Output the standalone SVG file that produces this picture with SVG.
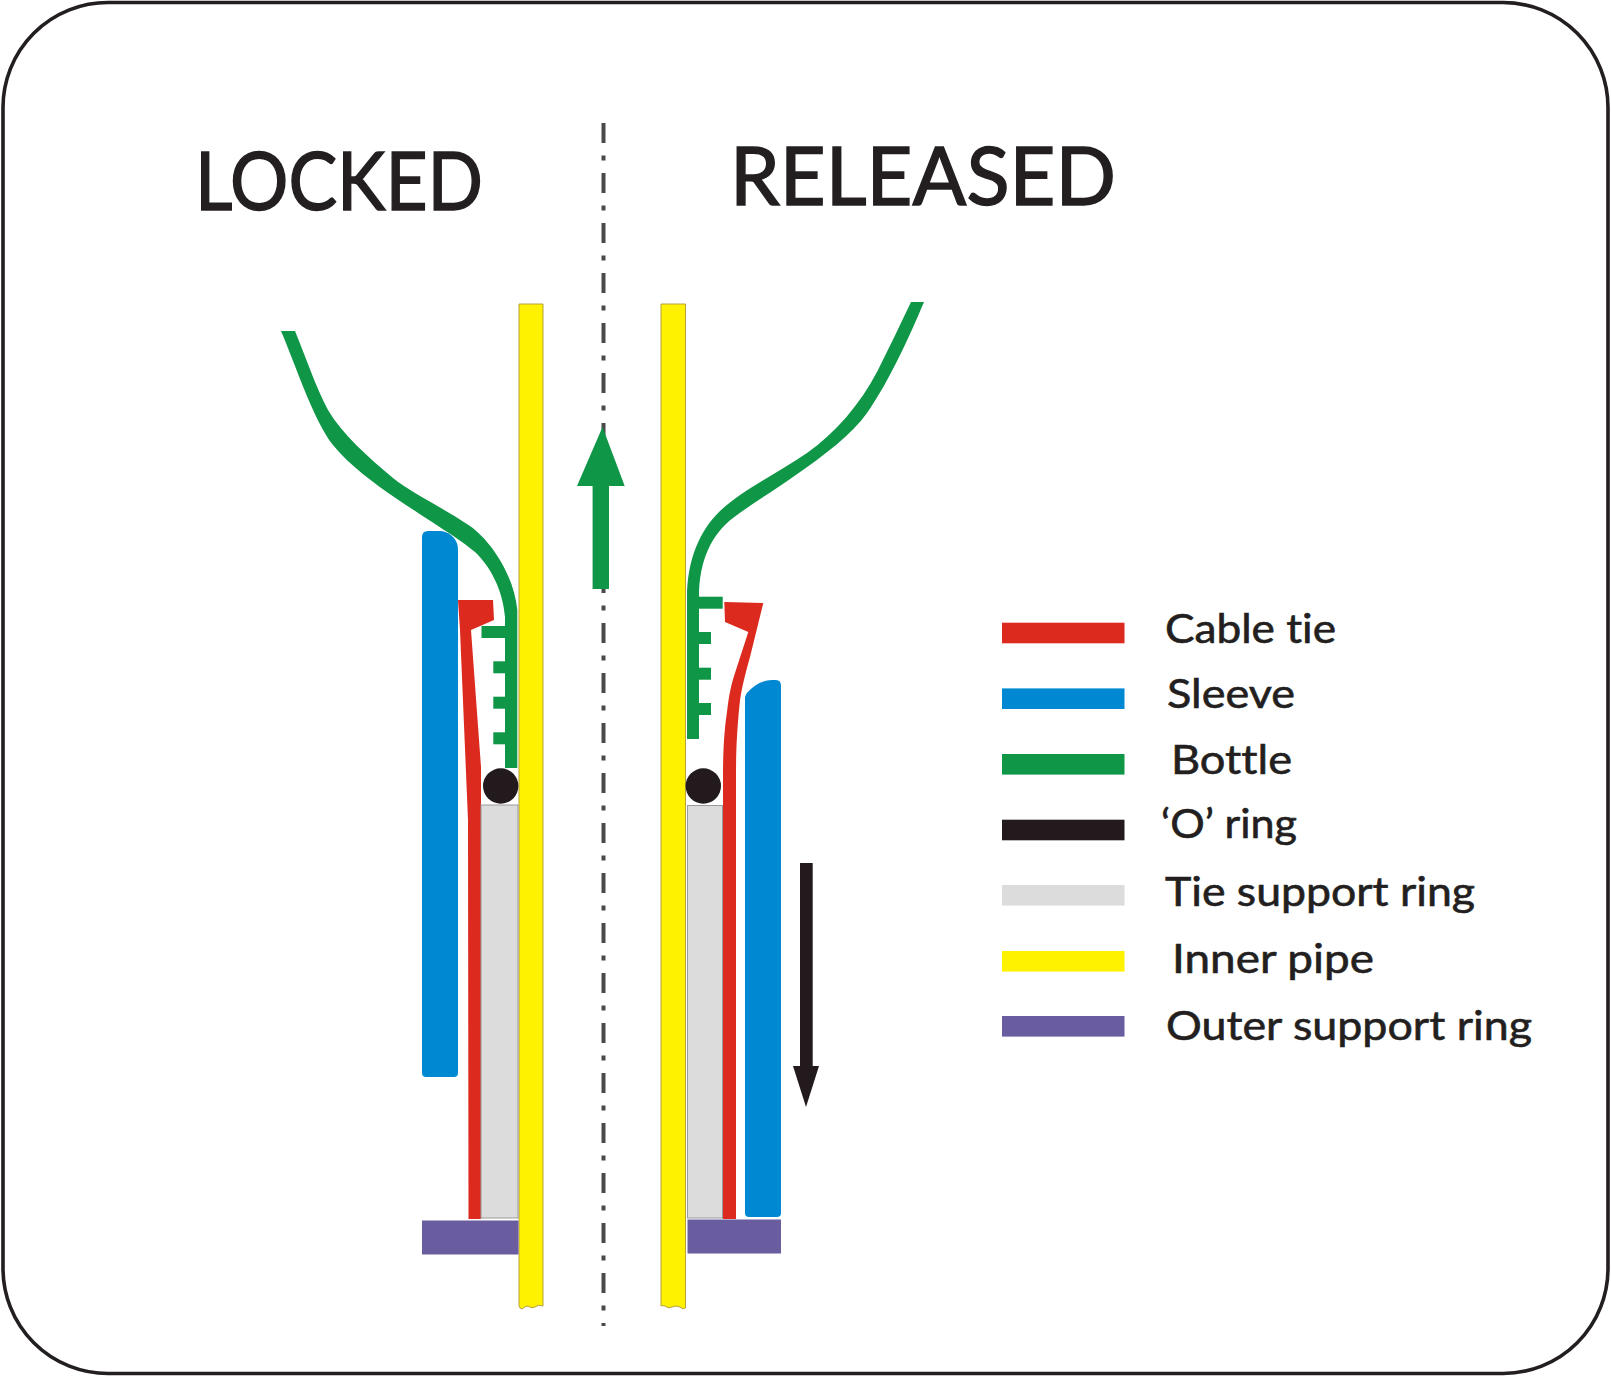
<svg xmlns="http://www.w3.org/2000/svg" width="1611" height="1377" viewBox="0 0 1611 1377">
<style>
.red{fill:#dc2a1e}.blue{fill:#0089d2}.green{fill:#0f9647}.black{fill:#221a1c}
.grey{fill:#dcdcdc}.greyl{fill:#dcdcdc;stroke:#9a9a9a;stroke-width:1}
.yellow{fill:#fff200}.yellowl{fill:#fff200;stroke:#b5a03c;stroke-width:1}.purple{fill:#695d9f}
text{font-family:"Lato","Open Sans","Liberation Sans",sans-serif;fill:#231f20;font-variant-ligatures:none}
.leg{font-size:40px;stroke:#231f20;stroke-width:.6}
.title{font-size:82px;stroke:#231f20;stroke-width:1.5}
</style>
<rect width="1611" height="1377" fill="#fff"/>
<rect id="frame" x="3" y="2.500" width="1605" height="1371" rx="105" ry="105" fill="#fff" stroke="#231f20" stroke-width="3.600"/>
<g id="titles">
<text class="title" x="195" y="210" textLength="288" lengthAdjust="spacingAndGlyphs">LOCKED</text>
<text class="title" x="730" y="205" textLength="386" lengthAdjust="spacingAndGlyphs">RELEASED</text>
</g>
<line id="centre-line" x1="603.5" y1="123" x2="603.5" y2="1326" stroke="#4a4a4a" stroke-width="4" stroke-dasharray="20 12.5 5 12.5"/>
<g id="locked">
<path class="yellowl" d="M519,304H543V1306Q538,1304 535,1307Q531,1309 528,1306Q525,1306 522,1309Q520,1309 519,1306Z"/>
<path class="blue" d="M422,537Q422,531 428,531H441Q449,532 454,538Q458,543 458,550V1073Q458,1077 454,1077H426Q422,1077 422,1073Z"/>
<path class="red" d="M458,600H493L494,620L471,630L481,767V1219H468.500L468,820L460,630Z"/>
<rect class="greyl" x="481" y="805" width="37" height="413"/>
<rect class="purple" x="422" y="1220.500" width="96.500" height="34"/>
<circle class="black" cx="500.700" cy="786" r="17.700"/>
<path class="green" d="M281,331H295C305,355 316,388 328,410C342,434 368,457 393,478C410,492 440,506 470,526C491,541 514,575 517.300,610V768H505V617C503,590 490,566 475,552C460,539 425,518 397,499C375,484 350,466 333,445C313,420 293,358 281,331Z"/>
<rect class="green" x="481.500" y="626" width="24" height="12"/>
<rect class="green" x="493.300" y="661.300" width="12" height="12"/>
<rect class="green" x="493.300" y="696.700" width="12" height="12"/>
<rect class="green" x="493.300" y="732.300" width="12" height="12"/>
</g>
<g id="released">
<path class="yellowl" d="M661,304H685.500V1308Q683,1310 680,1307Q676,1305 672,1307Q668,1309 665,1306Q663,1305 661,1306Z"/>
<path class="blue" d="M745,697Q746,692 756,685Q764,680 772,680H776Q781,680 781,686V1213Q781,1217 777,1217H749Q745,1217 745,1213Z"/>
<path class="red" d="M724.300,602L763.300,603L750,657C745,675 741,690 739.500,705C737,730 736,750 736,775V1219H723V775C723,745 725,725 727,712C729,695 731,685 735,673L748.300,632L725,622Z"/>
<rect class="greyl" x="687.500" y="805.500" width="35" height="412.500"/>
<rect class="purple" x="687.500" y="1219.500" width="93.500" height="34"/>
<circle class="black" cx="703.300" cy="786" r="17.700"/>
<path class="green" d="M911,302H924C910,335 890,380 867,413C852,434 825,455 793,477C773,491 750,505 733,518C712,534 699,560 699,597V739H687V597C687,560 700,530 720,511C745,488 780,472 807,453C835,433 860,405 878,370C889,348 900,325 911,302Z"/>
<rect class="green" x="698" y="596.700" width="24.700" height="12"/>
<rect class="green" x="698" y="632" width="13" height="12"/>
<rect class="green" x="698" y="667.700" width="13" height="12"/>
<rect class="green" x="698" y="703" width="13" height="12"/>
</g>
<g id="connectors">
<path id="arrow-up" class="green" d="M602.500,427L624.700,486H609V589H592.600V486H577Z"/>
<path id="arrow-down" class="black" d="M800,863H812.700V1066H819L806,1107L793,1066H800Z"/>
</g>
<g id="legend">
<rect class="red" x="1002" y="622.700" width="122.500" height="20.600"/>
<rect class="blue" x="1002" y="688.400" width="122.500" height="20.600"/>
<rect class="green" x="1002" y="754" width="122.500" height="20.600"/>
<rect class="black" x="1002" y="819.700" width="122.500" height="20.600"/>
<rect class="grey" x="1002" y="885" width="122.500" height="20.600"/>
<rect class="yellow" x="1002" y="951" width="122.500" height="20.600"/>
<rect class="purple" x="1002" y="1016" width="122.500" height="20.600"/>
<text class="leg" x="1165" y="643" textLength="171" lengthAdjust="spacingAndGlyphs">Cable tie</text>
<text class="leg" x="1167" y="708" textLength="128" lengthAdjust="spacingAndGlyphs">Sleeve</text>
<text class="leg" x="1171" y="774" textLength="121" lengthAdjust="spacingAndGlyphs">Bottle</text>
<text class="leg" x="1161" y="838" textLength="136" lengthAdjust="spacingAndGlyphs">‘O’ ring</text>
<text class="leg" x="1165" y="906" textLength="310" lengthAdjust="spacingAndGlyphs">Tie support ring</text>
<text class="leg" x="1172" y="973" textLength="202" lengthAdjust="spacingAndGlyphs">Inner pipe</text>
<text class="leg" x="1166" y="1040" textLength="366" lengthAdjust="spacingAndGlyphs">Outer support ring</text>
</g>
</svg>
